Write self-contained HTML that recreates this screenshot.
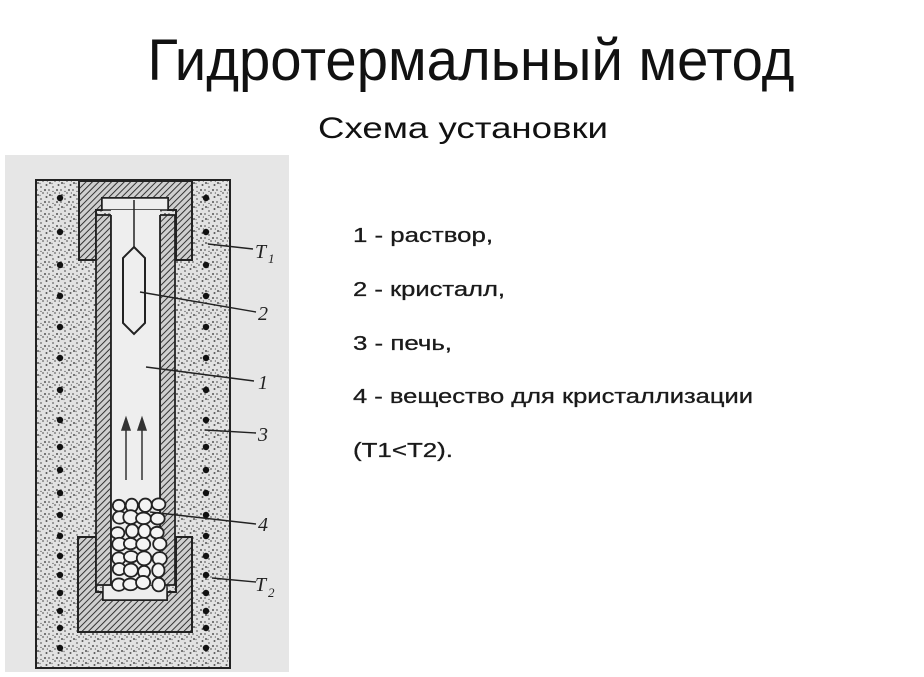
<!DOCTYPE html>
<html><head><meta charset="utf-8"><style>
html,body{margin:0;padding:0;background:#fff;width:924px;height:677px;overflow:hidden}
</style></head><body>
<svg id="s" width="924" height="677" viewBox="0 0 924 677" xmlns="http://www.w3.org/2000/svg">
<defs>
<pattern id="hatch" width="4.5" height="4.5" patternUnits="userSpaceOnUse" patternTransform="rotate(45)">
<rect width="5" height="5" fill="#cfcfcf"/><line x1="0" y1="0" x2="0" y2="5" stroke="#222" stroke-width="1.8"/></pattern>
<pattern id="stip" width="12" height="12" patternUnits="userSpaceOnUse">
<rect width="12" height="12" fill="#e2e2e2"/>
<circle cx="2" cy="3" r="1" fill="#555"/><circle cx="7" cy="1" r="0.9" fill="#666"/><circle cx="10.5" cy="5" r="1" fill="#555"/>
<circle cx="5" cy="7" r="0.9" fill="#666"/><circle cx="9" cy="10" r="1" fill="#555"/><circle cx="1" cy="10" r="0.9" fill="#666"/>
<circle cx="5" cy="11.5" r="0.8" fill="#777"/><circle cx="11.5" cy="1" r="0.8" fill="#777"/><circle cx="4" cy="3.5" r="0.7" fill="#777"/>
</pattern>
</defs>
<text x="471" y="80" font-family="Liberation Sans, sans-serif" font-size="58" text-anchor="middle" textLength="647" lengthAdjust="spacingAndGlyphs" fill="#111">Гидротермальный метод</text>
<text x="463" y="138" font-family="Liberation Sans, sans-serif" font-size="30" text-anchor="middle" textLength="290" lengthAdjust="spacingAndGlyphs" fill="#111">Схема установки</text>

<rect x="5" y="155" width="284" height="517" fill="#e6e6e6"/>
<rect x="36" y="180" width="194" height="488" fill="url(#stip)" stroke="#222" stroke-width="2"/>
<path d="M79,181 H192 V260 H176 V210 H168 V198 H102 V210 H96 V260 H79 Z" fill="url(#hatch)" stroke="#222" stroke-width="2"/>
<rect x="102" y="198" width="66" height="12" fill="#eee" stroke="#222" stroke-width="1.5"/>
<path d="M78,537 H96 V592 H103 V600 H167 V592 H176 V537 H192 V632 H78 Z" fill="url(#hatch)" stroke="#222" stroke-width="2"/>
<rect x="103" y="585" width="64" height="15" fill="#eee" stroke="#222" stroke-width="1.5"/>
<rect x="96" y="215" width="15" height="370" fill="url(#hatch)" stroke="#222" stroke-width="1.8"/>
<rect x="160" y="215" width="15" height="370" fill="url(#hatch)" stroke="#222" stroke-width="1.8"/>
<rect x="111" y="210" width="49" height="375" fill="#eee" stroke="none"/>
<line x1="111" y1="215" x2="111" y2="585" stroke="#222" stroke-width="1.8"/>
<line x1="160" y1="215" x2="160" y2="585" stroke="#222" stroke-width="1.8"/>
<line x1="134" y1="200" x2="134" y2="247" stroke="#222" stroke-width="1.5"/>
<path d="M134,247 L145,258 V323 L134,334 L123,323 V258 Z" fill="#eee" stroke="#222" stroke-width="2"/>
<g stroke="#333" stroke-width="1.5" fill="#333">
<line x1="126" y1="480" x2="126" y2="425"/><path d="M122,430 L126,418 L130,430Z"/>
<line x1="142" y1="480" x2="142" y2="425"/><path d="M138,430 L142,418 L146,430Z"/>
</g>
<g id="peb" fill="#f4f4f4" stroke="#222" stroke-width="1.8"></g>
<g id="dots" fill="#111"></g>
<g stroke="#222" stroke-width="1.4">
<line x1="208" y1="244" x2="253" y2="249"/>
<line x1="140" y1="292" x2="256" y2="312"/>
<line x1="146" y1="367" x2="254" y2="381"/>
<line x1="205" y1="430" x2="256" y2="433"/>
<line x1="150" y1="512" x2="256" y2="524"/>
<line x1="212" y1="578" x2="256" y2="582"/>
</g>
<g font-family="Liberation Serif, serif" font-style="italic" font-size="20" fill="#222">
<text x="255" y="258">T</text><text x="268" y="263" font-size="13">1</text>
<text x="258" y="320">2</text>
<text x="258" y="389">1</text>
<text x="258" y="441">3</text>
<text x="258" y="531">4</text>
<text x="255" y="591">T</text><text x="268" y="597" font-size="13">2</text>
</g>

<g font-family="Liberation Sans, sans-serif" font-size="20" fill="#1a1a1a" stroke="#1a1a1a" stroke-width="0.3">
<text x="353" y="242" textLength="140" lengthAdjust="spacingAndGlyphs">1 - раствор,</text>
<text x="353" y="296" textLength="152" lengthAdjust="spacingAndGlyphs">2 - кристалл,</text>
<text x="353" y="350" textLength="99" lengthAdjust="spacingAndGlyphs">3 - печь,</text>
<text x="353" y="403" textLength="400" lengthAdjust="spacingAndGlyphs">4 - вещество для кристаллизации</text>
<text x="353" y="457" textLength="100" lengthAdjust="spacingAndGlyphs">(T1&lt;T2).</text>
</g>
</svg>
<script>
var ns="http://www.w3.org/2000/svg";
var d=document.getElementById("dots");
var ys=[198,232,265,296,327,358,390,420,447,470,493,515,536,556,575,593,611,628,648];
ys.forEach(function(y){[60,206].forEach(function(x){var c=document.createElementNS(ns,"circle");c.setAttribute("cx",x);c.setAttribute("cy",y);c.setAttribute("r",3.2);d.appendChild(c);});});
var p=document.getElementById("peb");var s=7;function r(){s=(s*9301+49297)%233280;return s/233280;}
for(var y=504;y<588;y+=13){for(var x=117;x<158;x+=13){var e=document.createElementNS(ns,"ellipse");e.setAttribute("cx",x+r()*4);e.setAttribute("cy",y+r()*3);e.setAttribute("rx",6+r()*1.5);e.setAttribute("ry",5.5+r()*1.5);p.appendChild(e);}}
</script>
</body></html>
